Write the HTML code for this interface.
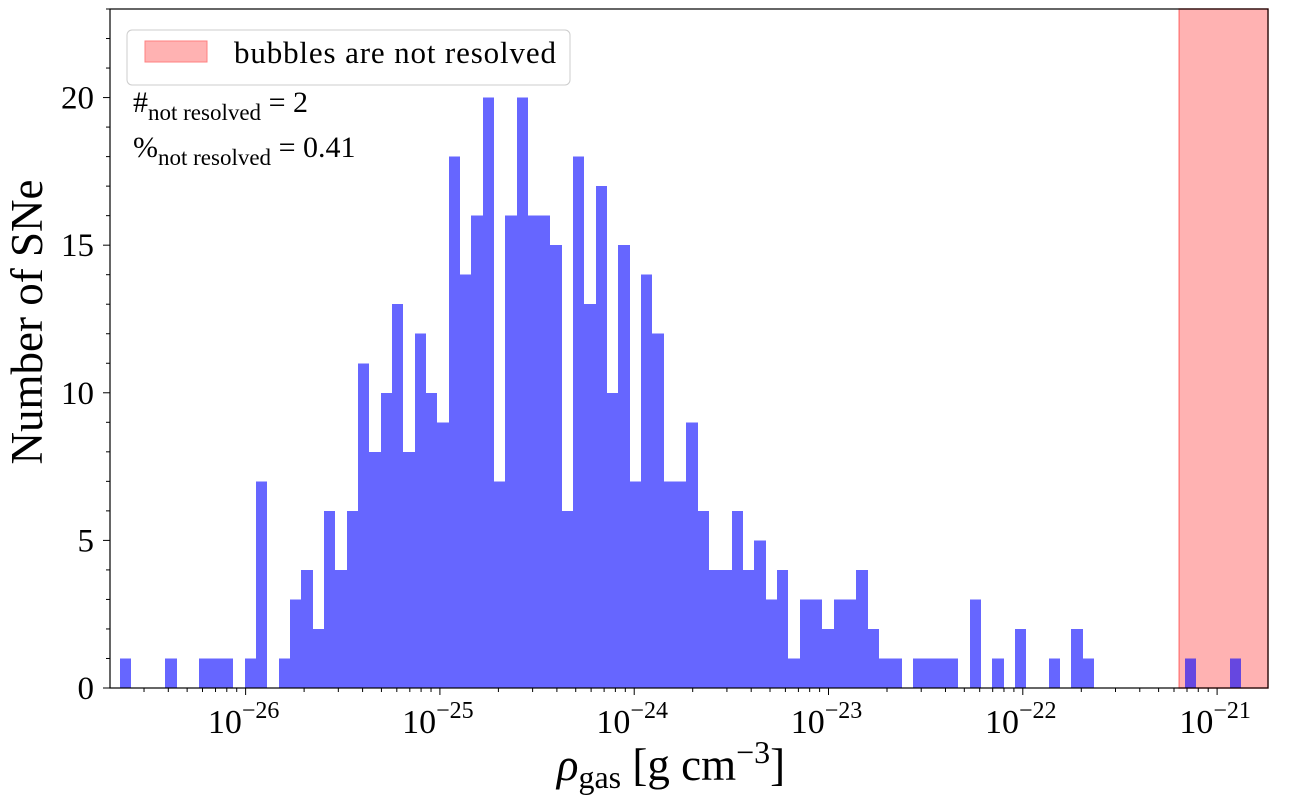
<!DOCTYPE html>
<html><head><meta charset="utf-8"><style>
body{margin:0;background:#fff;}
svg text{font-family:"Liberation Serif","DejaVu Serif",serif;fill:#000;}
</style></head><body>
<svg id="chart" width="1300" height="800" xmlns="http://www.w3.org/2000/svg">
<g id="span"></g><g id="bars" shape-rendering="crispEdges"></g><g id="axes"></g>
<g>
<rect x="127" y="30" width="443" height="55" rx="5" fill="#fff" fill-opacity="0.85" stroke="#ccc"/>
<rect x="145" y="41" width="62" height="21" fill="#ffb2b2" stroke="#ff8080"/>
<text x="234" y="63" font-size="31" textLength="322">bubbles are not resolved</text>
</g>
<text x="133" y="112" font-size="30">#<tspan dy="8" font-size="23">not resolved</tspan><tspan dy="-8"> =  2</tspan></text>
<text x="133" y="157" font-size="30">%<tspan dy="8" font-size="23">not resolved</tspan><tspan dy="-8"> =  0.41</tspan></text>
<text transform="translate(42,322) rotate(-90)" font-size="45" text-anchor="middle">Number of SNe</text>
<text x="671" y="780" font-size="45" text-anchor="middle"><tspan font-style="italic">ρ</tspan><tspan dy="8" font-size="32">gas</tspan><tspan dy="-8"> [g cm</tspan><tspan dy="-17" font-size="32">−3</tspan><tspan dy="17">]</tspan></text>
</svg>
<script>
const counts=[1,0,0,0,1,0,0,1,1,1,0,1,7,0,1,3,4,2,6,4,6,11,8,10,13,8,12,10,9,18,14,16,20,7,16,20,16,16,15,6,18,13,17,10,15,7,14,12,7,7,9,6,4,4,6,4,5,3,4,1,3,3,2,3,3,4,2,1,1,0,1,1,1,1,0,3,0,1,0,2,0,0,1,0,2,1,0,0,0,0,0,0,0,0,1,0,0,0,1];
const binLogMin=-26.646, binLogMax=-20.875;
const yTicks=[0,5,10,15,20];
const xDecades=[-26,-25,-24,-23,-22,-21];
const spanLog=[-21.195,-20.738];
const xLim=[-26.698,-20.738], yLim=[0,23];
const L=110,R=1268,T=9,B=688;
const NS="http://www.w3.org/2000/svg";
function X(v){return L+(v-xLim[0])/(xLim[1]-xLim[0])*(R-L);}
function Y(v){return B-(v-yLim[0])/(yLim[1]-yLim[0])*(B-T);}
function mk(p,tag,at){const e=document.createElementNS(NS,tag);for(const k in at)e.setAttribute(k,at[k]);document.getElementById(p).appendChild(e);return e;}
const bw=(binLogMax-binLogMin)/counts.length;
counts.forEach((c,i)=>{if(!c)return;
 const x0=X(binLogMin+i*bw),x1=X(binLogMin+(i+1)*bw);
 const r=mk('bars','rect',{x:Math.round(x0),y:Y(c),width:Math.round(x1)-Math.round(x0),height:Y(0)-Y(c),fill:'#0000ff','fill-opacity':0.6});
 
 
});
const sp=mk('span','rect',{x:X(spanLog[0]),y:T,width:X(spanLog[1])-X(spanLog[0]),height:B-T,fill:'#ffb2b2',stroke:'#ff8080','stroke-width':1.5});


const fr=mk('axes','rect',{x:L,y:T,width:R-L,height:B-T,fill:'none',stroke:'#000','stroke-width':1.2});


for(let v=yLim[0];v<=yLim[1];v++){mk('axes','line',{x1:L-(yTicks.includes(v)?7:4),x2:L,y1:Y(v),y2:Y(v),stroke:'#000','stroke-width':1});}
yTicks.forEach(v=>{const t=mk('axes','text',{x:L-16,y:Y(v)+11,'font-size':33,'text-anchor':'end'});t.textContent=v;
 
 });
for(let dd=-27;dd<=-21;dd++){for(let m=1;m<10;m++){const lv=dd+Math.log10(m);if(lv<xLim[0]||lv>xLim[1])continue;
 mk('axes','line',{x1:X(lv),x2:X(lv),y1:B,y2:B+(m===1?7:4),stroke:'#000','stroke-width':1});}}
xDecades.forEach(dd=>{const t=mk('axes','text',{x:X(dd)-2,y:B+45,'font-size':34,'text-anchor':'middle'});
 t.innerHTML='10<tspan dy="-15" font-size="24">−'+(-dd)+'</tspan>';
 
 });
</script>
</body></html>
